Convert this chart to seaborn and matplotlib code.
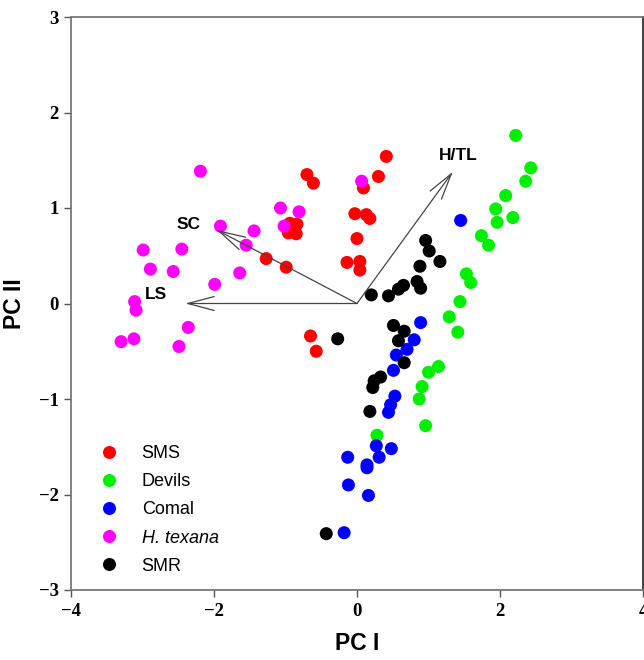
import matplotlib
matplotlib.use("Agg")
import matplotlib.pyplot as plt
import seaborn as sns
import pandas as pd
import numpy as np

groups = ["SMS", "Devils", "Comal", "H. texana", "SMR"]
colors = ["#ff0000", "#00ee00", "#0000ff", "#ff00ff", "#000000"]

sms_x = [0.41, 0.30, 0.09, -0.70, -0.61, -0.03, 0.13, 0.18, 0.00, -0.14, 0.04, 0.04,
         -0.94, -0.84, -0.96, -0.85, -1.27, -0.99, -0.65, -0.57]
sms_y = [1.54, 1.33, 1.21, 1.35, 1.26, 0.94, 0.93, 0.89, 0.68, 0.43, 0.44, 0.35,
         0.84, 0.83, 0.74, 0.73, 0.47, 0.38, -0.34, -0.50]

dev_x = [2.22, 2.43, 2.36, 2.08, 1.94, 1.96, 2.18, 1.74, 1.84, 1.53, 1.59, 1.44,
         1.29, 1.41, 1.14, 1.00, 0.91, 0.87, 0.96, 0.28]
dev_y = [1.76, 1.42, 1.28, 1.13, 0.99, 0.85, 0.90, 0.71, 0.61, 0.31, 0.22, 0.02,
         -0.14, -0.30, -0.66, -0.72, -0.87, -1.00, -1.28, -1.38]

com_x = [1.45, 0.89, 0.80, 0.70, 0.55, 0.51, 0.53, 0.47, 0.44, 0.27, 0.48, 0.31,
         0.14, 0.14, -0.13, -0.12, 0.16, -0.18]
com_y = [0.87, -0.20, -0.38, -0.48, -0.54, -0.70, -0.97, -1.06, -1.14, -1.49, -1.52, -1.61,
         -1.69, -1.72, -1.61, -1.90, -2.01, -2.40]

tex_x = [-2.19, -1.91, -1.44, -1.55, -2.99, -2.45, -2.89, -2.57, -1.64, -1.99, -3.11, -3.09,
         -2.36, -3.12, -3.30, -2.49, -1.07, -0.81, -1.02, 0.065]
tex_y = [1.385, 0.81, 0.76, 0.61, 0.56, 0.57, 0.36, 0.335, 0.32, 0.20, 0.02, -0.07,
         -0.25, -0.37, -0.40, -0.45, 1.00, 0.96, 0.81, 1.28]

smr_x = [0.96, 1.01, 1.16, 0.88, 0.84, 0.89, 0.65, 0.58, 0.44, 0.20, 0.51, 0.66,
         0.58, -0.27, 0.66, 0.33, 0.24, 0.22, 0.18, -0.43]
smr_y = [0.66, 0.55, 0.44, 0.39, 0.23, 0.16, 0.19, 0.15, 0.08, 0.09, -0.23, -0.29,
         -0.39, -0.37, -0.62, -0.77, -0.81, -0.88, -1.13, -2.41]

vec_labels = ["LS", "SC", "H/TL"]
vec_x = [-2.40, -1.96, 1.34]
vec_y = [0.0, 0.77, 1.38]
vec_label_x = [-2.81, -2.36, 1.41]
vec_label_y = [0.09, 0.83, 1.55]

frames = []
for g, xs, ys in zip(groups, [sms_x, dev_x, com_x, tex_x, smr_x],
                     [sms_y, dev_y, com_y, tex_y, smr_y]):
    frames.append(pd.DataFrame({"PC1": xs, "PC2": ys, "group": g}))
df = pd.concat(frames, ignore_index=True)

sns.set_style("white")
plt.rcParams.update({"text.color": "black", "axes.labelcolor": "black",
                     "xtick.color": "black", "ytick.color": "black"})
fig = plt.figure(figsize=(6.44, 6.60), dpi=100)
ax = fig.add_axes([71/644, 1 - 590/660, (643 - 71)/644, (590 - 17)/660])

sns.scatterplot(data=df, x="PC1", y="PC2", hue="group", hue_order=groups,
                palette=colors, s=88, edgecolor="none", linewidth=0, ax=ax, legend=True)

for lab, vx, vy, lx, ly in zip(vec_labels, vec_x, vec_y, vec_label_x, vec_label_y):
    ax.annotate("", xy=(vx, vy), xytext=(0, 0),
                arrowprops=dict(arrowstyle="->,head_length=1.9,head_width=0.5",
                                color="#444444", lw=0.9, shrinkA=0, shrinkB=0))
    ax.text(lx, ly, lab, fontsize=12.5, fontweight="bold", ha="center", va="center",
            family="Liberation Sans", color="black")

ax.set_xlim(-4, 4)
ax.set_ylim(-3, 3)
ax.set_xticks([-4, -2, 0, 2, 4])
ax.set_yticks([-3, -2, -1, 0, 1, 2, 3])
ax.set_xticklabels(["\u22124", "\u22122", "0", "2", "4"])
ax.set_yticklabels(["\u22123", "\u22122", "\u22121", "0", "1", "2", "3"])
for t in ax.get_xticklabels() + ax.get_yticklabels():
    t.set_family("Liberation Serif")
    t.set_fontweight("bold")
    t.set_fontsize(13.5)
    t.set_color("black")
ax.tick_params(axis="both", direction="out", length=5, width=1, color="#555555",
               bottom=True, left=True, top=False, right=False, pad=4)

for side, sp in ax.spines.items():
    sp.set_visible(True)
    sp.set_color("#777777")
    sp.set_linewidth(1.3)
ax.spines["right"].set_color("#333333")

ax.set_xlabel("PC I", fontsize=16.5, fontweight="bold", family="Liberation Sans",
              labelpad=9, color="black")
ax.set_ylabel("PC II", fontsize=16.5, fontweight="bold", family="Liberation Sans",
              labelpad=9, color="black")

handles, labels = ax.get_legend_handles_labels()
leg = ax.legend(handles, labels, loc="upper left", bbox_to_anchor=(0.051, 0.253),
                frameon=False, handlelength=1.0, handletextpad=1.3,
                labelspacing=0.62, borderpad=0, borderaxespad=0, markerscale=1.0,
                prop={"family": "Liberation Sans", "size": 13})
for t in leg.get_texts():
    t.set_color("black")
    if t.get_text() == "H. texana":
        t.set_fontstyle("italic")

fig.savefig("out.png", dpi=100)
